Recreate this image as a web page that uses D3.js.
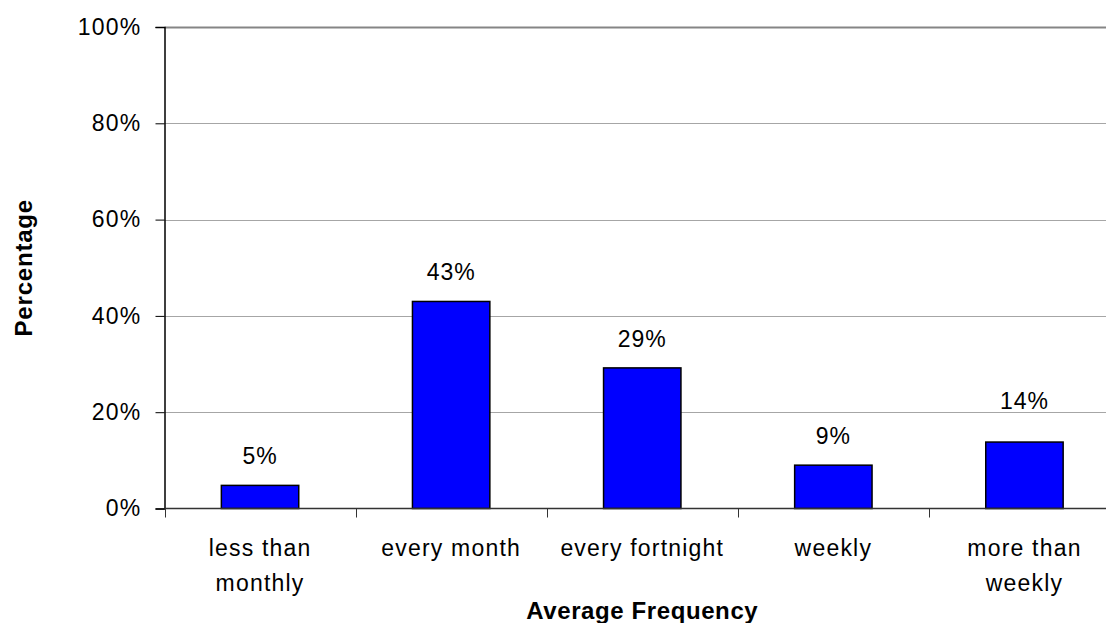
<!DOCTYPE html>
<html>
<head>
<meta charset="utf-8">
<script src="https://cdnjs.cloudflare.com/ajax/libs/d3/7.8.5/d3.min.js"></script>
<style>
  body { margin: 0; background: #fff; }
  text { font-family: "Liberation Sans", Arial, sans-serif; fill: #000; }
</style>
</head>
<body>
<div id="chart"></div>
<script>
// data
const categories = ["less than monthly", "every month", "every fortnight", "weekly", "more than weekly"];
const categoryLines = [["less than", "monthly"], ["every month"], ["every fortnight"], ["weekly"], ["more than", "weekly"]];
const values = [4.8, 43, 29.2, 9, 13.8];
const yTicks = [0, 20, 40, 60, 80, 100];

const width = 1106, height = 623;
const plotLeft = 164.5, plotRight = 1120, plotTop = 27, plotBottom = 508.5;

const svg = d3.select("#chart").append("svg")
    .attr("width", width)
    .attr("height", height);

const x = d3.scaleBand()
    .domain(categories)
    .range([plotLeft, plotRight])
    .paddingInner(0.595)
    .paddingOuter(0.2975);

const y = d3.scaleLinear()
    .domain([0, 100])
    .range([plotBottom, plotTop]);

// gridlines
svg.append("g")
    .selectAll("line")
    .data(yTicks.filter(d => d > 0))
    .enter().append("line")
    .attr("x1", plotLeft)
    .attr("x2", width)
    .attr("y1", d => Math.round(y(d)) + 0.5)
    .attr("y2", d => Math.round(y(d)) + 0.5)
    .attr("stroke", d => d === 100 ? "#858585" : "#a6a6a6")
    .attr("stroke-width", d => d === 100 ? 2 : 1);

// bars
svg.append("g")
    .selectAll("rect")
    .data(values)
    .enter().append("rect")
    .attr("x", (d, i) => x(categories[i]))
    .attr("y", d => y(d))
    .attr("width", x.bandwidth())
    .attr("height", d => plotBottom - y(d))
    .attr("fill", "#0000ff")
    .attr("stroke", "#000")
    .attr("stroke-width", 1.5);

// value labels (lifted above a gridline if they would sit on it)
svg.append("g")
    .selectAll("text")
    .data(values)
    .enter().append("text")
    .attr("x", (d, i) => x(categories[i]) + x.bandwidth() / 2)
    .attr("y", d => {
        let base = y(d) - 21;
        const grid = yTicks.find(t => t > 0 && y(t) < base + 2 && y(t) > base - 18);
        if (grid !== undefined) base = y(grid) - 3.5;
        return base;
    })
    .attr("text-anchor", "middle")
    .style("font-size", "23px")
    .style("letter-spacing", "1px")
    .text(d => Math.round(d) + "%");

// left axis
const yAxis = svg.append("g")
    .attr("transform", `translate(${plotLeft},0)`)
    .call(d3.axisLeft(y).tickValues(yTicks).tickSize(9).tickPadding(14).tickFormat(d => d + "%"));
yAxis.attr("font-family", null).attr("font-size", null);
yAxis.select(".domain").attr("stroke", "#000").attr("stroke-width", 1.5);
yAxis.selectAll(".tick line").attr("stroke", "#000");
yAxis.selectAll(".tick text")
    .style("font-size", "23px")
    .style("letter-spacing", "1.2px");

// bottom axis line and category boundary ticks
svg.append("line")
    .attr("x1", plotLeft).attr("x2", width)
    .attr("y1", plotBottom).attr("y2", plotBottom)
    .attr("stroke", "#333").attr("stroke-width", 1.5);

const step = x.step();
const bounds = d3.range(categories.length + 1).map(i => plotLeft + i * step);
svg.append("g")
    .selectAll("line")
    .data(bounds)
    .enter().append("line")
    .attr("x1", d => Math.round(d) + 0.5)
    .attr("x2", d => Math.round(d) + 0.5)
    .attr("y1", plotBottom)
    .attr("y2", plotBottom + 9)
    .attr("stroke", "#333");

// category labels
const catText = svg.append("g")
    .selectAll("text")
    .data(categoryLines)
    .enter().append("text")
    .attr("text-anchor", "middle")
    .style("font-size", "23px")
    .style("letter-spacing", "1.2px")
    .attr("transform", (d, i) => `translate(${x(categories[i]) + x.bandwidth() / 2},556)`);
catText.selectAll("tspan")
    .data(d => d)
    .enter().append("tspan")
    .attr("x", 0)
    .attr("y", (d, i) => i * 34.7)
    .text(d => d);

// axis titles
svg.append("text")
    .attr("x", (plotLeft + plotRight) / 2)
    .attr("y", 619)
    .attr("text-anchor", "middle")
    .style("font-size", "24px")
    .style("font-weight", "bold")
    .style("letter-spacing", "0.6px")
    .text("Average Frequency");

svg.append("text")
    .attr("transform", `translate(31.5,${(plotTop + plotBottom) / 2}) rotate(-90)`)
    .attr("text-anchor", "middle")
    .style("font-size", "24px")
    .style("font-weight", "bold")
    .style("letter-spacing", "0.8px")
    .text("Percentage");
</script>
</body>
</html>
